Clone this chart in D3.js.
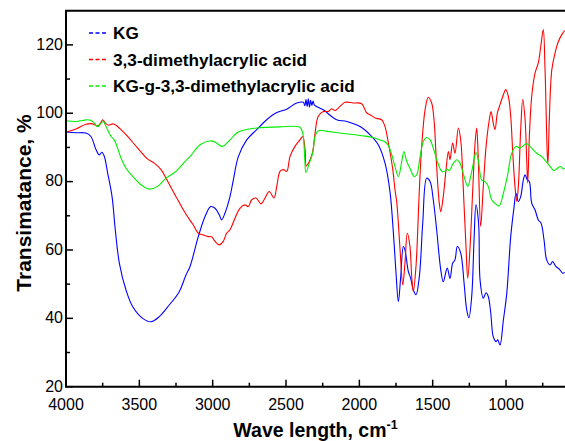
<!DOCTYPE html>
<html>
<head>
<meta charset="utf-8">
<script src="https://cdn.jsdelivr.net/npm/d3@7"></script>
<style>
  html, body { margin: 0; padding: 0; background: #fff; }
  svg { display: block; font-family: "Liberation Sans", Arial, sans-serif; }
</style>
</head>
<body>
<svg id="chart" width="565" height="441"></svg>
<script>
// [wavenumber cm-1, transmittance %]
const kg = [
  [4000,94.5],[3930,94.3],[3864,94.2],[3830,93.2],[3795,89.3],[3773,87.8],[3755,88.6],[3739,87.4],
  [3716,82.5],[3686,75.6],[3664,65.9],[3636,56.1],[3591,48.3],[3545,43.4],[3477,40.0],[3420,39.0],
  [3364,40.5],[3296,43.9],[3228,47.8],[3182,52.7],[3155,55.1],[3098,63.9],[3052,69.8],[3013,72.7],
  [2984,72.2],[2955,70.3],[2939,68.8],[2916,70.8],[2882,75.6],[2859,80.5],[2825,87.3],[2768,92.2],
  [2700,95.2],[2632,98.1],[2563,100.2],[2495,101.2],[2427,103.0],[2382,103.2],[2372,102.2],[2364,104.0],
  [2356,102.0],[2348,104.2],[2340,101.8],[2332,103.8],[2324,102.3],[2316,103.6],[2306,102.4],[2246,101.0],
  [2155,98.1],[2086,97.6],[1995,96.1],[1927,93.7],[1871,90.8],[1825,85.4],[1791,77.0],[1768,65.0],
  [1750,53.2],[1734,44.9],[1718,52.2],[1700,61.0],[1689,60.0],[1666,53.7],[1650,51.7],[1632,48.3],
  [1614,46.9],[1591,52.2],[1568,67.8],[1541,81.0],[1518,80.0],[1496,74.7],[1473,65.9],[1445,54.2],
  [1428,50.7],[1401,54.7],[1382,51.7],[1364,56.1],[1348,57.1],[1332,61.0],[1309,59.1],[1286,50.3],
  [1268,42.5],[1253,40.2],[1234,46.4],[1218,63.0],[1205,73.2],[1187,67.8],[1177,51.2],[1155,45.9],
  [1136,47.5],[1121,46.4],[1104,41.5],[1087,34.6],[1068,33.2],[1057,33.7],[1041,32.2],[1018,39.5],
  [995,47.3],[968,63.9],[945,72.7],[932,76.6],[916,74.2],[900,75.6],[882,80.5],[870,82.0],
  [855,80.5],[841,80.0],[825,73.7],[802,71.7],[780,68.8],[761,67.8],[741,63.0],[723,57.1],
  [700,55.6],[682,56.6],[659,55.1],[637,54.4],[613,53.2],[600,53.4]
];

const acid = [
  [4000,94.5],[3932,95.4],[3864,96.8],[3818,96.9],[3784,96.3],[3768,96.9],[3750,98.1],[3732,97.1],
  [3709,96.5],[3682,96.9],[3659,96.5],[3625,95.2],[3580,93.2],[3511,89.8],[3443,86.6],[3398,85.4],
  [3352,83.5],[3318,81.0],[3250,75.6],[3187,70.8],[3132,67.3],[3098,64.9],[3064,64.4],[3030,63.9],
  [3007,63.9],[2984,62.5],[2955,61.5],[2928,62.5],[2905,64.9],[2882,65.9],[2848,69.3],[2814,72.2],
  [2780,73.2],[2757,72.7],[2734,74.7],[2705,75.2],[2670,73.5],[2643,75.2],[2614,77.1],[2582,75.2],
  [2563,78.6],[2541,83.0],[2518,83.5],[2495,83.0],[2473,87.3],[2439,90.3],[2405,92.2],[2386,93.2],
  [2370,89.3],[2362,84.6],[2341,85.9],[2318,88.8],[2302,94.2],[2280,99.1],[2246,100.5],[2212,100.5],
  [2189,101.3],[2166,100.8],[2132,102.0],[2098,103.2],[2041,103.0],[1984,102.8],[1950,100.1],[1916,99.3],
  [1893,98.6],[1848,98.1],[1825,96.1],[1802,91.3],[1772,83.5],[1757,77.6],[1745,74.0],[1734,67.8],
  [1718,57.1],[1704,49.8],[1689,56.1],[1673,64.9],[1655,61.0],[1643,52.2],[1632,47.8],[1614,55.1],
  [1591,77.6],[1575,90.3],[1552,101.0],[1530,104.7],[1507,103.0],[1491,98.1],[1473,84.4],[1455,73.7],
  [1445,71.2],[1428,75.6],[1409,83.5],[1393,88.8],[1382,86.4],[1364,91.3],[1348,88.3],[1325,95.7],
  [1309,92.2],[1291,77.6],[1273,61.0],[1261,51.7],[1245,61.0],[1227,77.6],[1211,91.3],[1200,95.7],
  [1189,86.4],[1173,66.9],[1155,78.6],[1136,90.3],[1114,98.1],[1102,100.5],[1087,97.1],[1075,95.2],
  [1059,100.1],[1041,102.5],[1018,105.4],[1002,106.9],[984,104.9],[968,99.1],[954,88.3],[939,78.6],
  [927,74.2],[916,78.6],[900,95.2],[886,104.0],[870,98.1],[859,86.4],[852,79.6],[841,93.2],
  [825,104.9],[802,111.8],[780,114.7],[763,119.6],[746,124.5],[734,112.7],[718,87.3],[714,85.4],
  [705,98.1],[688,112.7],[666,117.6],[643,121.0],[620,123.0],[600,124.2]
];

const grafted = [
  [4000,97.8],[3932,97.6],[3886,97.9],[3852,98.1],[3818,97.6],[3784,96.1],[3761,97.1],[3746,97.6],
  [3727,96.1],[3693,93.2],[3671,92.2],[3648,89.8],[3625,86.9],[3591,83.9],[3545,81.5],[3489,79.1],
  [3432,77.8],[3375,78.6],[3318,81.0],[3250,83.0],[3187,85.9],[3155,87.3],[3086,90.8],[3018,91.9],
  [2984,91.6],[2934,90.3],[2882,92.2],[2836,94.2],[2791,95.0],[2700,95.7],[2541,96.0],[2405,95.9],
  [2386,94.2],[2373,87.3],[2364,82.7],[2341,85.4],[2318,88.3],[2302,93.2],[2280,94.9],[2222,94.7],
  [2132,94.2],[1995,93.5],[1916,93.0],[1859,92.2],[1814,91.3],[1786,88.8],[1757,84.4],[1734,81.5],
  [1711,85.9],[1696,88.8],[1677,85.9],[1655,83.9],[1627,81.5],[1609,82.0],[1586,87.3],[1564,91.7],
  [1541,92.9],[1518,92.2],[1496,89.8],[1468,85.9],[1438,83.0],[1416,83.0],[1400,83.7],[1387,83.2],
  [1359,85.4],[1336,86.4],[1314,85.4],[1286,81.5],[1261,78.6],[1241,81.5],[1218,86.4],[1205,88.5],
  [1189,86.4],[1166,80.5],[1143,80.0],[1121,78.6],[1098,74.7],[1063,73.2],[1046,72.9],[1018,76.6],
  [991,81.5],[961,88.3],[932,90.3],[905,89.8],[882,90.5],[859,91.1],[825,89.8],[791,88.3],
  [757,87.3],[718,85.4],[689,83.9],[673,83.2],[650,83.9],[627,84.4],[609,83.7],[600,83.9]
];

const seriesNames  = ["KG", "3,3-dimethylacrylic acid", "KG-g-3,3-dimethylacrylic acid"];
const seriesColors = ["#0000ff", "#ff0000", "#00ee00"];
const xTicks = [4000, 3500, 3000, 2500, 2000, 1500, 1000];
const xMinorTicks = [3750, 3250, 2750, 2250, 1750, 1250, 750];
const yTicks = [20, 40, 60, 80, 100, 120];
const yMinorTicks = [30, 50, 70, 90, 110];

const W = 565, H = 441;
const m = { left: 66, top: 10.7, right: 0.3, bottom: 54.3 };

const svg = d3.select("#chart");
const x = d3.scaleLinear().domain([4000, 600]).range([m.left, W - m.right]);
const y = d3.scaleLinear().domain([20, 130]).range([H - m.bottom, m.top]);

const line = d3.line()
  .x(d => x(d[0]))
  .y(d => y(d[1]))
  .curve(d3.curveCatmullRom.alpha(0.5));

// spectra
[kg, acid, grafted].forEach((data, i) => {
  svg.append("path")
    .datum(data)
    .attr("d", line)
    .attr("fill", "none")
    .attr("stroke", seriesColors[i])
    .attr("stroke-width", 1.1);
});

// frame (right edge runs off the picture)
svg.append("path")
  .attr("d", `M${W + 2},${m.top}H${m.left}V${y(20)}H${W + 2}`)
  .attr("fill", "none")
  .attr("stroke", "#000")
  .attr("stroke-width", 2);

// x ticks, inward
const xAxis = svg.append("g");
xAxis.selectAll("line.major").data(xTicks).join("line")
  .attr("x1", d => x(d)).attr("x2", d => x(d))
  .attr("y1", y(20)).attr("y2", y(20) - 7)
  .attr("stroke", "#000").attr("stroke-width", 1.5);
xAxis.selectAll("line.minor").data(xMinorTicks).join("line")
  .attr("x1", d => x(d)).attr("x2", d => x(d))
  .attr("y1", y(20)).attr("y2", y(20) - 4)
  .attr("stroke", "#000").attr("stroke-width", 1.5);
xAxis.selectAll("text").data(xTicks).join("text")
  .attr("x", d => x(d))
  .attr("y", 409.5)
  .attr("text-anchor", "middle")
  .attr("font-size", 16)
  .text(d => d);

// y ticks, inward
const yAxis = svg.append("g");
yAxis.selectAll("line.major").data(yTicks).join("line")
  .attr("x1", m.left).attr("x2", m.left + 7)
  .attr("y1", d => y(d)).attr("y2", d => y(d))
  .attr("stroke", "#000").attr("stroke-width", 1.5);
yAxis.selectAll("line.minor").data(yMinorTicks).join("line")
  .attr("x1", m.left).attr("x2", m.left + 4)
  .attr("y1", d => y(d)).attr("y2", d => y(d))
  .attr("stroke", "#000").attr("stroke-width", 1.5);
yAxis.selectAll("text").data(yTicks).join("text")
  .attr("x", m.left - 3)
  .attr("y", d => y(d))
  .attr("dy", "0.3em")
  .attr("text-anchor", "end")
  .attr("font-size", 16)
  .text(d => d);

// axis titles
const xTitle = svg.append("text")
  .attr("x", (m.left + W) / 2)
  .attr("y", 437)
  .attr("text-anchor", "middle")
  .attr("font-size", 19.5)
  .attr("font-weight", "bold");
xTitle.append("tspan").text("Wave length, cm");
xTitle.append("tspan").attr("dy", -8).attr("font-size", 12.5).text("-1");

svg.append("text")
  .attr("transform", `translate(31,203) rotate(-90)`)
  .attr("text-anchor", "middle")
  .attr("font-size", 21)
  .attr("font-weight", "bold")
  .text("Transimatance, %");

// legend
const legend = svg.append("g");
seriesNames.forEach((name, i) => {
  const ly = 33 + i * 26.5;
  legend.append("line")
    .attr("x1", 89).attr("x2", 108)
    .attr("y1", ly).attr("y2", ly)
    .attr("stroke", seriesColors[i])
    .attr("stroke-width", 1.3)
    .attr("stroke-dasharray", "4,2.5");
  legend.append("text")
    .attr("x", 113)
    .attr("y", ly)
    .attr("dy", "0.36em")
    .attr("font-size", 17.2)
    .attr("font-weight", "bold")
    .text(name);
});
</script>
</body>
</html>
